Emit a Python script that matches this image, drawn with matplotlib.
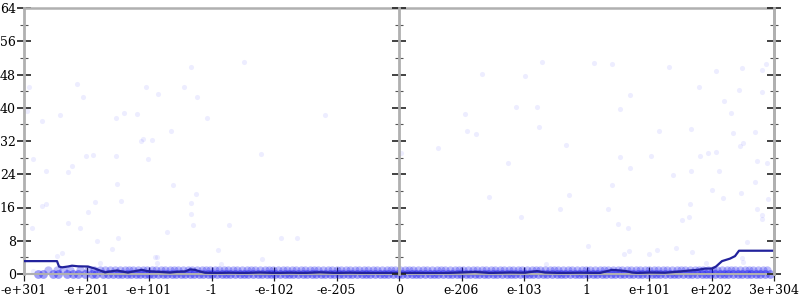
import matplotlib
matplotlib.use("Agg")
import matplotlib.pyplot as plt

# ---- data ----
tick_pos = [0, 1, 2, 3, 4, 5, 6, 7, 8, 9, 10, 11, 12]
tick_labels = ["-e+301", "-e+201", "-e+101", "-1", "-e-102", "-e-205", "0",
               "e-206", "e-103", "1", "e+101", "e+202", "3e+304"]
y_major = [0, 8, 16, 24, 32, 40, 48, 56, 64]
y_minor = [4, 12, 20, 28, 36, 44, 52, 60]

scatter_x = [0.075, 0.043, 0.288, 0.576, 0.843, 0.949, 1.472, 1.6, 1.803, 1.877,
             1.909, 2.043, 1.952, 2.139, 2.347, 2.555, 2.667, 2.763, 3.52, 2.928,
             1.989, 4.816, 3.792, 2.379, 2.747, 2.667,
             0.149, 0.352, 0.709, 0.763, 0.992, 1.109, 1.467, 1.493, 0.283, 0.352,
             1.136, 1.547, 2.667, 1.029, 0.133, 0.709, 0.896, 2.709, 2.283, 1.163,
             1.509, 1.403, 0.603, 0.523, 2.096, 2.123, 1.216, 2.133, 0.139,
             3.285, 3.099, 3.152, 4.112, 4.373, 3.803,
             8.283, 9.125, 9.413, 7.328, 8.021, 9.701, 7.877, 8.203, 9.531, 7.056,
             8.245, 7.093, 7.232, 10.155, 8.672, 6.624, 6.037, 9.531, 10.027, 7.739,
             9.701, 9.413, 7.44, 8.72, 8.571, 9.339, 7.947, 8.352, 9.019,
             10.32, 11.077, 11.483, 11.813, 11.877, 10.805, 11.435, 11.813, 11.195, 11.312,
             10.672, 11.349, 11.696, 11.499, 11.461, 10.816, 10.939, 11.072, 11.883, 11.723,
             10.379, 10.672, 11.12, 11.696, 11.013, 11.467, 11.189, 11.899, 10.656, 11.723,
             11.803, 11.803, 10.645, 10.523, 9.509, 9.669, 11.563, 10.432, 10.683, 10.133,
             9.68, 9.6, 10.005, 11.483, 11.499, 10.907]
scatter_y = [44.9, 39.1, 36.7, 38.3, 45.7, 42.7, 37.5, 38.7, 38.5, 32.1,
             32.4, 32.2, 44.9, 43.2, 34.4, 45.1, 49.9, 42.5, 50.9, 37.5,
             27.7, 38.3, 28.9, 21.5, 19.2, 17.0,
             27.7, 24.7, 24.6, 26.0, 28.4, 28.6, 28.3, 21.6, 16.4, 16.8,
             17.4, 17.6, 14.4, 15.0, 11.1, 12.3, 11.0, 11.8, 10.0, 7.9,
             8.7, 6.0, 5.1, 4.3, 4.2, 4.2, 2.7, 2.7, 0.8,
             11.8, 5.8, 2.3, 8.7, 8.7, 3.7,
             50.9, 50.8, 50.5, 48.1, 47.7, 43.0, 40.2, 40.2, 39.6, 38.4,
             35.4, 34.5, 33.7, 34.5, 31.1, 30.3, 29.1, 28.1, 28.3, 26.7,
             25.5, 21.5, 18.6, 18.9, 15.7, 15.7, 13.8, 2.4, 6.7,
             49.8, 48.8, 49.6, 49.2, 50.5, 44.9, 44.2, 43.9, 41.7, 38.8,
             35.0, 34.0, 34.2, 31.6, 30.8, 28.3, 29.1, 29.4, 26.6, 27.3,
             23.8, 24.7, 24.9, 22.1, 20.2, 19.6, 18.4, 18.0, 16.8, 15.6,
             14.1, 13.2, 13.8, 13.1, 12.0, 11.0, 7.6, 6.2, 5.4, 5.8,
             5.6, 4.7, 4.7, 3.8, 2.8, 2.6]

band_zero_x = [0.22, 0.31, 0.47, 0.55, 0.68, 0.79, 0.86, 0.97, 1.08, 1.15, 1.26, 1.34, 1.42,
               1.5, 1.57, 1.64, 1.71, 1.79, 1.86, 1.93, 2.0, 2.07, 2.15, 2.22, 2.29, 2.36,
               2.43, 2.51, 2.58, 2.65, 2.72, 2.8, 2.87, 2.94, 3.01, 3.08, 3.16, 3.23, 3.3,
               3.37, 3.45, 3.52, 3.59, 3.66, 3.74, 3.81, 3.88, 3.95, 4.02, 4.1, 4.17, 4.24,
               4.31, 4.39, 4.46, 4.53, 4.6, 4.67, 4.75, 4.82, 4.89, 4.96, 5.04, 5.11, 5.18,
               5.25, 5.33, 5.4, 5.47, 5.54, 5.62, 5.69, 5.76, 5.83, 5.91, 5.98, 6.05, 6.12,
               6.2, 6.27, 6.34, 6.41, 6.49, 6.56, 6.63, 6.7, 6.78, 6.85, 6.92, 6.99, 7.07,
               7.14, 7.21, 7.28, 7.36, 7.43, 7.5, 7.57, 7.65, 7.72, 7.79, 7.86, 7.94, 8.01,
               8.08, 8.15, 8.23, 8.3, 8.37, 8.44, 8.52, 8.59, 8.66, 8.73, 8.81, 8.88, 8.95,
               9.02, 9.1, 9.17, 9.24, 9.31, 9.39, 9.46, 9.53, 9.6, 9.68, 9.75, 9.82, 9.89,
               9.97, 10.04, 10.11, 10.18, 10.26, 10.33, 10.4, 10.47, 10.55, 10.62, 10.69,
               10.76, 10.84, 10.91, 10.98, 11.05, 11.13, 11.2, 11.27, 11.34, 11.42, 11.49,
               11.56, 11.63, 11.71, 11.78, 11.85, 11.93]
band_one_x = [0.38, 0.52, 0.63, 0.74, 0.9, 1.02, 1.12, 1.21, 1.3, 1.38, 1.46, 1.53, 1.61,
              1.68, 1.75, 1.83, 1.9, 1.97, 2.04, 2.11, 2.19, 2.26, 2.33, 2.4, 2.47, 2.55,
              2.62, 2.69, 2.76, 2.84, 2.91, 2.98, 3.05, 3.12, 3.2, 3.27, 3.34, 3.41, 3.49,
              3.56, 3.63, 3.7, 3.78, 3.85, 3.92, 3.99, 4.06, 4.14, 4.21, 4.28, 4.35, 4.43,
              4.5, 4.57, 4.64, 4.71, 4.79, 4.86, 4.93, 5.0, 5.07, 5.15, 5.22, 5.29, 5.36,
              5.44, 5.51, 5.58, 5.65, 5.73, 5.8, 5.87, 5.94, 6.02, 6.09, 6.16, 6.23, 6.31,
              6.38, 6.45, 6.52, 6.6, 6.67, 6.74, 6.81, 6.89, 6.96, 7.03, 7.1, 7.18, 7.25,
              7.32, 7.39, 7.47, 7.54, 7.61, 7.68, 7.76, 7.83, 7.9, 7.97, 8.05, 8.12, 8.19,
              8.26, 8.34, 8.41, 8.48, 8.55, 8.63, 8.7, 8.77, 8.84, 8.92, 8.99, 9.06, 9.13,
              9.21, 9.28, 9.35, 9.42, 9.5, 9.57, 9.64, 9.71, 9.79, 9.86, 9.93, 10.0, 10.08,
              10.15, 10.22, 10.29, 10.37, 10.44, 10.51, 10.58, 10.66, 10.73, 10.8, 10.87,
              10.95, 11.02, 11.09, 11.16, 11.24, 11.31, 11.38, 11.45, 11.53, 11.6, 11.67,
              11.74, 11.82, 11.89]

line_x = [0, 0.528, 0.56, 0.608, 0.704, 0.768, 0.864, 1.024, 1.136, 1.216, 1.296, 1.376,
          1.488, 1.568, 1.664, 1.776, 1.888, 1.968, 2.048, 2.176, 2.336, 2.464, 2.576,
          2.656, 2.736, 2.816, 2.896, 3.056, 3.296, 3.536, 3.776, 4.016, 4.256, 4.496,
          4.736, 4.976, 5.216, 5.456, 5.696, 5.984, 6.336, 6.656, 6.976, 7.216, 7.456,
          7.776, 8.016, 8.208, 8.336, 8.576, 8.896, 9.216, 9.408, 9.536, 9.632, 9.728,
          9.808, 10.016, 10.256, 10.496, 10.656, 10.784, 10.896, 11.008, 11.072, 11.168,
          11.296, 11.376, 11.44, 12]
line_y = [3.1, 3.1, 1.8, 1.6, 1.8, 2.0, 1.85, 1.8, 1.3, 0.85, 0.4, 0.6,
          0.85, 0.6, 0.35, 0.7, 1.0, 0.7, 0.6, 0.5, 0.35, 0.55, 0.6,
          1.1, 1.0, 0.6, 0.3, 0.25, 0.3, 0.25, 0.35, 0.25, 0.3, 0.25,
          0.4, 0.25, 0.3, 0.25, 0.25, 0.25, 0.25, 0.2, 0.35, 0.5, 0.25,
          0.35, 0.3, 0.7, 0.35, 0.25, 0.3, 0.25, 1.0, 0.85, 0.7, 0.35,
          0.25, 0.35, 0.3, 0.6, 0.85, 1.0, 1.3, 1.3, 1.8, 3.1,
          3.7, 4.3, 5.6, 5.6]

# ---- figure ----
plt.rcParams['font.family'] = ['DejaVu Serif']
fig = plt.figure(figsize=(8, 3), dpi=100)
ax = fig.add_axes([24 / 800, 26 / 300, 750 / 800, 266 / 300])

spine_col = "#b0b0b0"
ax.scatter(scatter_x, scatter_y, s=14, color="#0000ff", alpha=0.07, linewidths=0, zorder=2)
ax.scatter(band_zero_x, [0] * len(band_zero_x), s=40, color="#1010ee", alpha=0.4,
           linewidths=0, zorder=2, clip_on=False)
ax.scatter(band_one_x, [1] * len(band_one_x), s=36, color="#1010ee", alpha=0.28,
           linewidths=0, zorder=2)
ax.plot(line_x, line_y, color="#22229c", lw=1.6, zorder=3, solid_joinstyle="round")

ax.set_xlim(tick_pos[0], tick_pos[-1])
ax.set_ylim(y_major[0], y_major[-1])
ax.set_xticks(tick_pos)
ax.set_xticklabels(tick_labels, fontsize=9)
ax.set_yticks(y_major)
ax.set_yticklabels([str(v) for v in y_major], fontsize=9)
ax.set_yticks(y_minor, minor=True)
ax.tick_params(axis="y", which="major", direction="inout", length=10, width=1.2,
               color="#222222", pad=1)
ax.tick_params(axis="y", which="minor", direction="inout", length=6, width=0.8,
               color="#555555")
ax.tick_params(axis="x", which="major", direction="inout", length=10, width=0.9,
               color="#222222", pad=2)

for side in ["left", "right", "top", "bottom"]:
    ax.spines[side].set_color(spine_col)
ax.spines["left"].set_linewidth(2)
ax.spines["right"].set_linewidth(2)
ax.spines["top"].set_linewidth(1.8)
ax.spines["bottom"].set_linewidth(1.5)

# right axis and centre axis (ticks only)
for pos in [1.0, 0.5]:
    tw = ax.twinx()
    tw.set_ylim(ax.get_ylim())
    tw.set_yticks(y_major)
    tw.set_yticks(y_minor, minor=True)
    tw.set_yticklabels([])
    tw.spines["right"].set_position(("axes", pos))
    tw.spines["right"].set_color(spine_col)
    tw.spines["right"].set_linewidth(2)
    for s in ["left", "top", "bottom"]:
        tw.spines[s].set_visible(False)
    tw.tick_params(axis="y", which="major", direction="inout", length=10, width=1.2,
                   color="#222222")
    tw.tick_params(axis="y", which="minor", direction="inout", length=6, width=0.8,
                   color="#555555")
    tw.patch.set_visible(False)

fig.savefig("out.png", dpi=100)
